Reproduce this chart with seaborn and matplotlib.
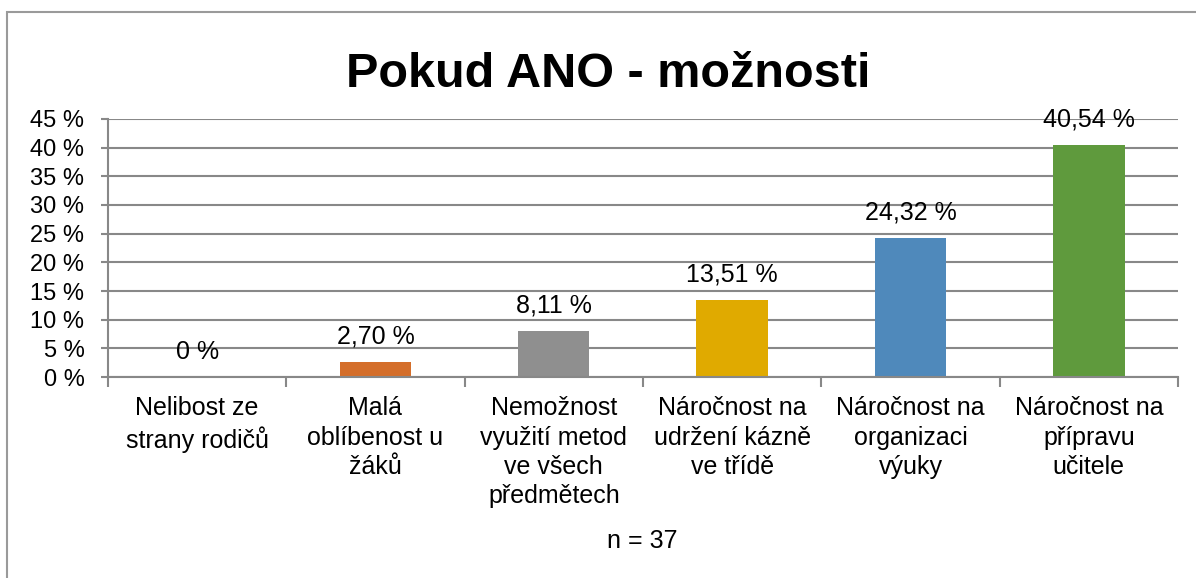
import matplotlib
matplotlib.use("Agg")
import matplotlib.pyplot as plt
import matplotlib.patches as mpatches
import seaborn as sns
import pandas as pd
import numpy as np

# Survey answers (share of respondents, in percent)
categories = [
    "Nelibost ze\nstrany rodičů",
    "Malá\noblíbenost u\nžáků",
    "Nemožnost\nvyužití metod\nve všech\npředmětech",
    "Náročnost na\nudržení kázně\nve třídě",
    "Náročnost na\norganizaci\nvýuky",
    "Náročnost na\npřípravu\nučitele",
]
values = [0.0, 2.70, 8.11, 13.51, 24.32, 40.54]
bar_colors = ["#4F81BD", "#D46E2A", "#8F8F8F", "#E0AA00", "#4F89BB", "#5F9A3D"]
y_ticks = [0, 5, 10, 15, 20, 25, 30, 35, 40, 45]
title = "Pokud ANO - možnosti"
note = "n = 37"

sns.set_theme(style="white")
plt.rcParams["font.family"] = ["Liberation Sans", "DejaVu Sans"]

W, H = 1196, 578
fig = plt.figure(figsize=(W / 100, H / 100), dpi=100)
ax = fig.add_axes([108 / W, 1 - 377 / H, (1178 - 108) / W, (377 - 119) / H])

df = pd.DataFrame({"kategorie": categories, "podil": values})
sns.barplot(data=df, x="kategorie", y="podil", hue="kategorie",
            palette=bar_colors, width=0.40, legend=False, ax=ax,
            saturation=1.0, edgecolor="none")

grid_color = "#888888"
ax.set_ylim(0, 45)
ax.set_xlim(-0.5, len(categories) - 0.5)
ax.set_yticks(y_ticks)
ax.set_yticklabels([f"{t} %" for t in y_ticks], fontsize=17, color="black")
ax.yaxis.grid(True, color=grid_color, linewidth=1.5)
ax.set_axisbelow(True)
ax.tick_params(axis="y", length=5, width=1.5, color=grid_color, pad=12, left=True)

# category labels centred under bars, tick marks at category boundaries
ax.set_xticks(range(len(categories)))
ax.set_xticklabels(categories, fontsize=18, color="black", linespacing=1.28)
ax.tick_params(axis="x", which="major", length=0, pad=14)
ax.set_xticks(np.arange(-0.5, len(categories), 1.0), minor=True)
ax.tick_params(axis="x", which="minor", length=7, width=1.5, color=grid_color,
               direction="out", bottom=True)

ax.set_xlabel("")
ax.set_ylabel("")
for side in ["top", "right"]:
    ax.spines[side].set_visible(False)
for side in ["left", "bottom"]:
    ax.spines[side].set_color(grid_color)
    ax.spines[side].set_linewidth(1.5)

# value labels above bars
for i, v in enumerate(values):
    txt = "0 %" if v == 0 else f"{v:.2f}".replace(".", ",") + " %"
    ax.annotate(txt, xy=(i, v), xytext=(0, 13), textcoords="offset points",
                ha="center", va="baseline", fontsize=18, color="black")

fig.text(608 / W, 1 - 87 / H, title, ha="center", va="baseline",
         fontsize=35, fontweight="bold", color="black")
fig.text(642 / W, 1 - 548 / H, note, ha="center", va="baseline",
         fontsize=18, color="black")

# outer chart frame
frame = mpatches.Rectangle((7 / W, -0.05), 1.2, 1 - 12 / H + 0.05,
                           transform=fig.transFigure, fill=False,
                           edgecolor="#9A9A9A", linewidth=1.5, clip_on=False)
fig.patches.append(frame)

fig.savefig("out.png", dpi=100)
